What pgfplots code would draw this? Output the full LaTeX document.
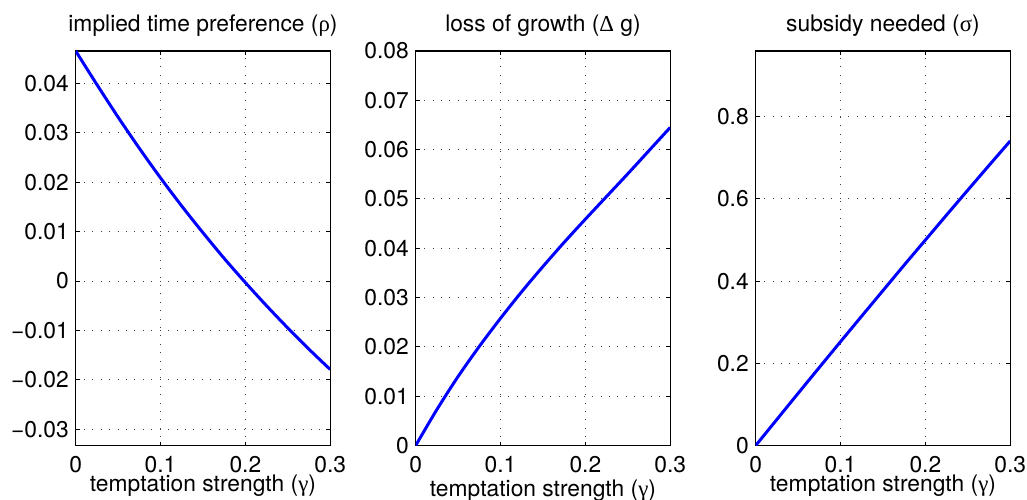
\documentclass[border=0pt]{standalone}
\usepackage{fontspec}
\setmainfont{TeX Gyre Heros}
\newfontfamily\grk{Liberation Serif}
\usepackage{pgfplots}
\pgfplotsset{compat=1.18}

\pgfplotsset{
  mpanel/.style={
    scale only axis, width=127.25pt, height=197.25pt,
    xmin=0, xmax=0.3,
    xtick={0,0.1,0.2,0.3}, xticklabels={0,0.1,0.2,0.3},
    scaled x ticks=false, scaled y ticks=false,
    tick align=inside, major tick length=2pt,
    xtick pos=both, ytick pos=both,
    grid=major,
    grid style={black!75, line width=0.5pt, dash pattern=on 0.5pt off 3.7pt},
    axis line style={line width=0.6pt},
    every tick/.style={black, line width=0.5pt},
    font=\fontsize{11.4}{13}\selectfont,
    xticklabel style={anchor=base, yshift=-13.6pt, inner sep=0pt},
    yticklabel style={anchor=east, inner sep=0pt, xshift=-3.3pt},
    every axis title/.style={at={(axis description cs:0.5,1)}, anchor=base, yshift=9.65pt, inner sep=0pt},
    every axis x label/.style={at={(axis description cs:0.5,0)}, anchor=base, yshift=-23pt, inner sep=0pt},
    xlabel={temptation strength ({\grk γ})},
  },
  mline/.style={blue, line width=1.5pt, smooth, no marks},
}

\begin{document}
\begin{tikzpicture}

% implied time preference
\begin{axis}[mpanel, at={(0pt,0pt)},
    ymin=-0.0333, ymax=0.0466,
    ytick={-0.03,-0.02,-0.01,0,0.01,0.02,0.03,0.04},
    yticklabels={−0.03,−0.02,−0.01,0,0.01,0.02,0.03,0.04},
    title={implied time preference ({\grk ρ})}]
\addplot[mline] coordinates {
  (0,0.0466) (0.025,0.0398) (0.05,0.0332) (0.075,0.0269) (0.1,0.0209)
  (0.125,0.0152) (0.15,0.0098) (0.175,0.0046) (0.2,-0.0003) (0.225,-0.0050)
  (0.25,-0.0095) (0.275,-0.0138) (0.3,-0.0179)
};
\end{axis}

% loss of growth
\begin{axis}[mpanel, at={(170pt,0pt)},
    ymin=0, ymax=0.08,
    ytick={0,0.01,0.02,0.03,0.04,0.05,0.06,0.07,0.08},
    yticklabels={0,0.01,0.02,0.03,0.04,0.05,0.06,0.07,0.08},
    every axis x label/.append style={yshift=-2.4pt},
    title={loss of growth ({\grk Δ} g)}]
\addplot[mline] coordinates {
  (0,0) (0.025,0.0073) (0.05,0.0140) (0.075,0.0201) (0.1,0.0258)
  (0.125,0.0312) (0.15,0.0363) (0.175,0.0412) (0.2,0.0459) (0.225,0.0505)
  (0.25,0.0551) (0.275,0.0598) (0.3,0.0645)
};
\end{axis}

% subsidy needed
\begin{axis}[mpanel, at={(340pt,0pt)},
    ymin=0, ymax=0.96,
    ytick={0,0.2,0.4,0.6,0.8},
    yticklabels={0,0.2,0.4,0.6,0.8},
    title={subsidy needed ({\grk σ})}]
\addplot[mline] coordinates {
  (0,0) (0.025,0.0635) (0.05,0.127) (0.075,0.190) (0.1,0.2527)
  (0.125,0.315) (0.15,0.377) (0.175,0.439) (0.2,0.500) (0.225,0.561)
  (0.25,0.6215) (0.275,0.6815) (0.3,0.741)
};
\end{axis}

\pgfresetboundingbox
\path[use as bounding box] (-37.85pt,-26.75pt) rectangle (475.65pt,222.75pt);
\end{tikzpicture}
\end{document}
